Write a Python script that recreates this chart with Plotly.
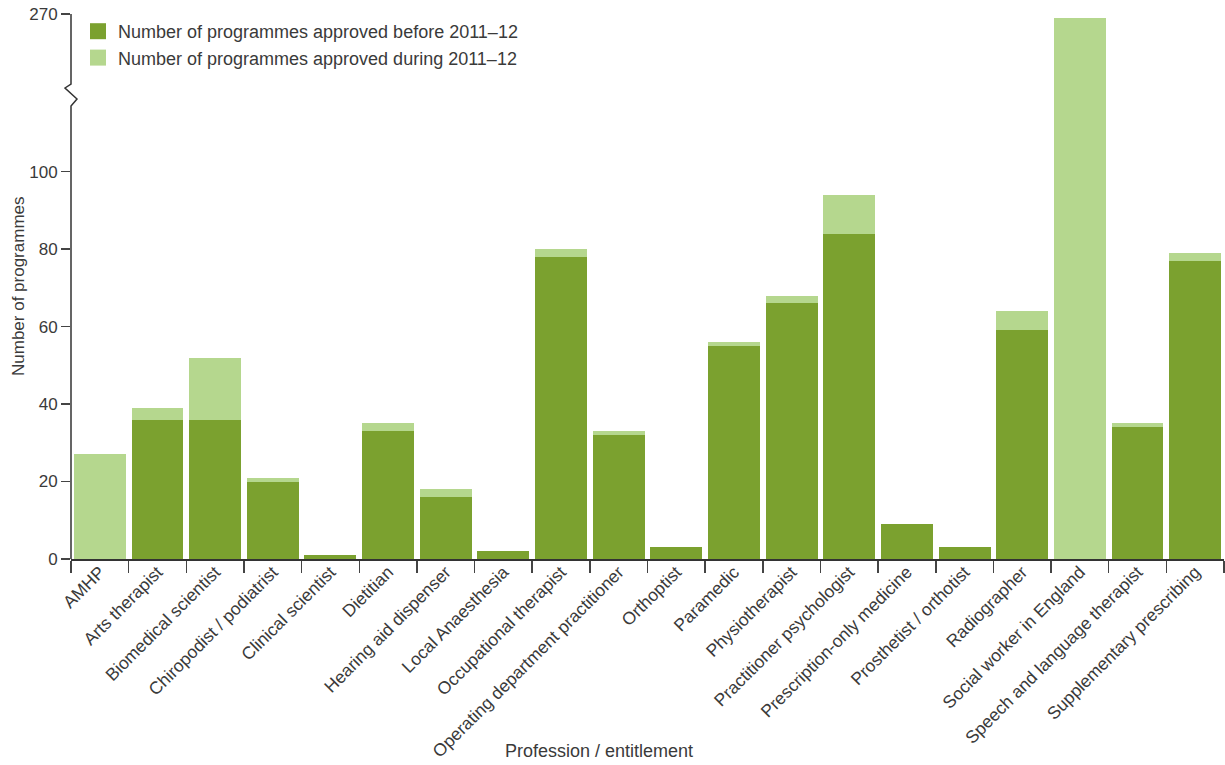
import plotly.graph_objects as go

categories = ["AMHP", "Arts therapist", "Biomedical scientist", "Chiropodist / podiatrist",
              "Clinical scientist", "Dietitian", "Hearing aid dispenser", "Local Anaesthesia",
              "Occupational therapist", "Operating department practitioner", "Orthoptist",
              "Paramedic", "Physiotherapist", "Practitioner psychologist",
              "Prescription-only medicine", "Prosthetist / orthotist", "Radiographer",
              "Social worker in England", "Speech and language therapist",
              "Supplementary prescribing"]
approved_before = [0, 36, 36, 20, 1, 33, 16, 2, 78, 32, 3, 55, 66, 84, 9, 3, 59, 0, 34, 77]
approved_during = [27, 3, 16, 1, 0, 2, 2, 0, 2, 1, 0, 1, 2, 10, 0, 0, 5, 269, 1, 2]
series_names = ["Number of programmes approved before 2011\u201312",
                "Number of programmes approved during 2011\u201312"]
lower_ticks = [0, 20, 40, 60, 80, 100]
upper_ticks = [270]

DARK = "#7ba12f"
LIGHT = "#b5d78e"
FONT = "Liberation Sans"
TXT = "#3a3a3a"

W, H = 1225, 765
# screen pixel geometry of the plot area
X0, X1, YTOP, YBASE = 71, 1224, 14, 559
L, T = X0, YTOP
R, B = W - X1, H - YBASE
PW, PH = X1 - X0, YBASE - YTOP
px_per_unit = 3.873
break_px = 106  # screen y where lower axis segment ends
lower_top = (YBASE - break_px) / px_per_unit
upper_bottom = 270 - (break_px - YTOP) / px_per_unit
split = (YBASE - break_px) / PH

def px(x):
    return (x - X0) / PW

def py(y):
    return (YBASE - y) / PH

fig = go.Figure()
for ax in ("y", "y2"):
    fig.add_trace(go.Bar(x=categories, y=approved_before, name=series_names[0],
                         marker=dict(color=DARK, line=dict(width=0)), yaxis=ax, showlegend=False))
    fig.add_trace(go.Bar(x=categories, y=approved_during, name=series_names[1],
                         marker=dict(color=LIGHT, line=dict(width=0)), yaxis=ax, showlegend=False))

# legend entries (square swatches)
for name, col in zip(series_names, (DARK, LIGHT)):
    fig.add_trace(go.Scatter(x=[None], y=[None], mode="markers", name=name,
                             marker=dict(symbol="square", size=17, color=col, line=dict(width=0)),
                             showlegend=True))

fig.update_layout(
    width=W, height=H,
    margin=dict(l=L, r=R, t=T, b=B, autoexpand=False),
    paper_bgcolor="white", plot_bgcolor="white",
    barmode="stack", bargap=0.1, hovermode=False,
    font=dict(family=FONT, size=18, color=TXT),
    showlegend=True,
    legend=dict(x=px(78), y=py(13), xanchor="left", yanchor="top", bgcolor="rgba(0,0,0,0)",
                font=dict(size=18, color=TXT), traceorder="normal", tracegroupgap=0),
    xaxis=dict(type="category", showline=True, linecolor="#333333", linewidth=2,
               ticks="outside", tickson="boundaries", ticklen=12, tickcolor="#444444", tickwidth=1.5,
               tickangle=-45, tickfont=dict(size=17.5, color=TXT), showgrid=False, zeroline=False,
               anchor="y", automargin=False, ticklabelstandoff=-6),
    yaxis=dict(domain=[0, split], range=[0, lower_top], tickvals=lower_ticks, ticks="outside",
               ticklen=9, tickcolor="#444444", tickwidth=1.5, showline=False, showgrid=False,
               zeroline=False, tickfont=dict(size=17, color=TXT), automargin=False),
    yaxis2=dict(domain=[split, 1], range=[upper_bottom, 270], tickvals=upper_ticks, ticks="outside",
                ticklen=9, tickcolor="#444444", tickwidth=1.5, showline=False, showgrid=False,
                zeroline=False, tickfont=dict(size=17, color=TXT), anchor="x", automargin=False,
                ticklabeloverflow="allow"),
)

# axis line with break (zigzag)
path = (f"M {px(71)} {py(559)} L {px(71)} {py(106)} L {px(77)} {py(99)} "
        f"L {px(65)} {py(88)} L {px(71)} {py(84)} L {px(71)} {py(14)}")
fig.add_shape(type="path", path=path, xref="paper", yref="paper",
              line=dict(color="#333333", width=1.5))

fig.add_annotation(text="Number of programmes", xref="paper", yref="paper",
                   x=px(18), y=py(286), textangle=-90, showarrow=False,
                   font=dict(size=17, color=TXT), xanchor="center", yanchor="middle")
fig.add_annotation(text="Profession / entitlement", xref="paper", yref="paper",
                   x=px(599), y=py(751), showarrow=False,
                   font=dict(size=18, color=TXT), xanchor="center", yanchor="middle")

fig.write_html("out.html", config={"displayModeBar": False, "staticPlot": True},
               post_script="document.body.style.margin='0';document.body.style.overflow='hidden';")
